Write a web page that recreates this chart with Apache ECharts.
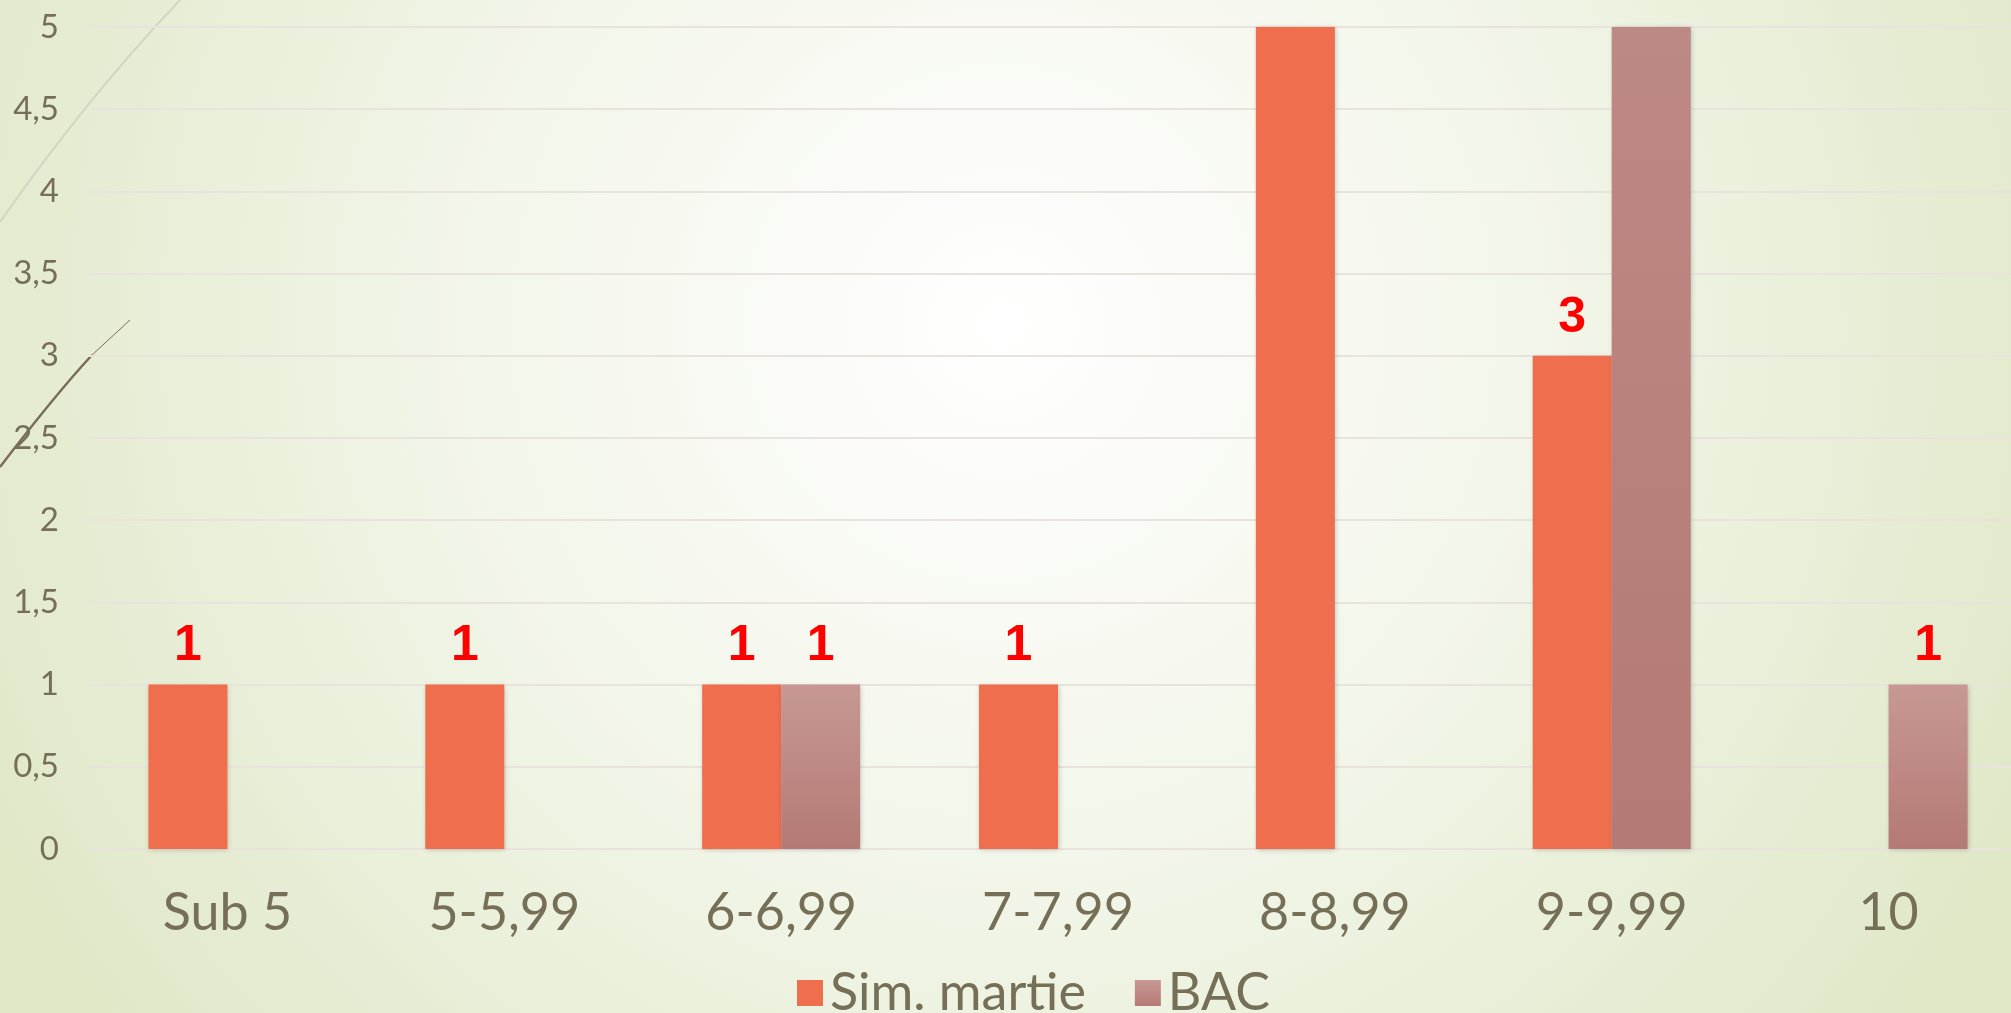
<!DOCTYPE html>
<html>
<head>
<meta charset="utf-8">
<script src="https://cdn.jsdelivr.net/npm/echarts@6/dist/echarts.min.js"></script>
<style>
html,body{margin:0;padding:0;width:2011px;height:1013px;overflow:hidden;}
#c{width:2027px;height:1013px;}
</style>
</head>
<body>
<div id="c"></div>
<script>
const categories = ['Sub 5', '5-5,99', '6-6,99', '7-7,99', '8-8,99', '9-9,99', '10'];
const simMartie = [1, 1, 1, 1, 5, 3, null];
const bac = [null, null, 1, null, null, 5, 1];
const seriesNames = ['Sim. martie', 'BAC'];
const yMin = 0, yMax = 5, yStep = 0.5;

const textColor = '#766f57';
const chart = echarts.init(document.getElementById('c'));

const labelCfg = {
  show: true,
  position: 'top',
  distance: 13,
  color: '#ff0000',
  fontFamily: 'Liberation Sans, Arial, sans-serif',
  fontWeight: 'bold',
  fontSize: 50,
  formatter: p => (p.value >= yMax ? '' : String(p.value))
};
const shadow = { shadowColor: 'rgba(0,0,0,0.22)', shadowBlur: 5, shadowOffsetX: 1, shadowOffsetY: 1 };
const bacLight = new echarts.graphic.LinearGradient(0, 0, 0, 1, [
  { offset: 0, color: '#c79893' }, { offset: 1, color: '#b47a75' }]);
const bacTall = new echarts.graphic.LinearGradient(0, 0, 0, 1, [
  { offset: 0, color: '#bd8984' }, { offset: 1, color: '#b47a75' }]);

chart.setOption({
  animation: false,
  backgroundColor: new echarts.graphic.RadialGradient(0.495, 0.32, 1.15, [
    { offset: 0, color: '#ffffff' },
    { offset: 0.45, color: '#f3f6ea' },
    { offset: 1, color: '#dfe7c6' }
  ]),
  graphic: [
    { type: 'bezierCurve', silent: true, z: 0,
      shape: { x1: 0, y1: 222, cpx1: 86, cpy1: 99, x2: 180, y2: 0 },
      style: { stroke: '#d2d5c2', lineWidth: 2, fill: null } },
    { type: 'bezierCurve', silent: true, z: 0,
      shape: { x1: 0, y1: 467, cpx1: 55, cpy1: 395, x2: 92, y2: 355 },
      style: { stroke: '#776d55', lineWidth: 2.5, fill: null } },
    { type: 'line', silent: true, z: 0,
      shape: { x1: 92, y1: 355, x2: 130, y2: 320 },
      style: { stroke: '#776d55', lineWidth: 1, fill: null } }
  ],
  grid: { left: 89, right: 0, top: 27, bottom: 164, containLabel: false },
  legend: {
    data: [
      { name: seriesNames[0], itemStyle: { color: '#ef6e4d' } },
      { name: seriesNames[1], itemStyle: { color: bacLight } }
    ],
    left: 797,
    top: 967,
    padding: 0,
    icon: 'rect',
    itemWidth: 26,
    itemHeight: 26,
    itemGap: 49,
    textStyle: { color: textColor, fontFamily: 'Lato, sans-serif', fontSize: 52, padding: [0, 0, 0, 2] }
  },
  xAxis: {
    type: 'category',
    data: categories,
    axisLine: { show: false },
    axisTick: { show: false },
    axisLabel: { color: textColor, fontFamily: 'Lato, sans-serif', fontSize: 52, margin: 38 }
  },
  yAxis: {
    type: 'value',
    min: yMin, max: yMax, interval: yStep,
    axisLine: { show: false },
    axisTick: { show: false },
    splitLine: { lineStyle: { color: '#e8e4dd', width: 2 } },
    axisLabel: {
      color: textColor, fontFamily: 'Lato, sans-serif', fontSize: 33, margin: 30,
      formatter: v => String(v).replace('.', ',')
    }
  },
  series: [
    {
      name: seriesNames[0], type: 'bar', data: simMartie,
      barWidth: 79, barGap: '0%',
      itemStyle: Object.assign({ color: '#ef6e4d' }, shadow),
      label: labelCfg
    },
    {
      name: seriesNames[1], type: 'bar', data: bac,
      barWidth: 79, barGap: '0%',
      itemStyle: Object.assign({
        color: p => (p.value >= yMax ? bacTall : bacLight)
      }, shadow),
      label: labelCfg
    }
  ]
});
</script>
</body>
</html>
